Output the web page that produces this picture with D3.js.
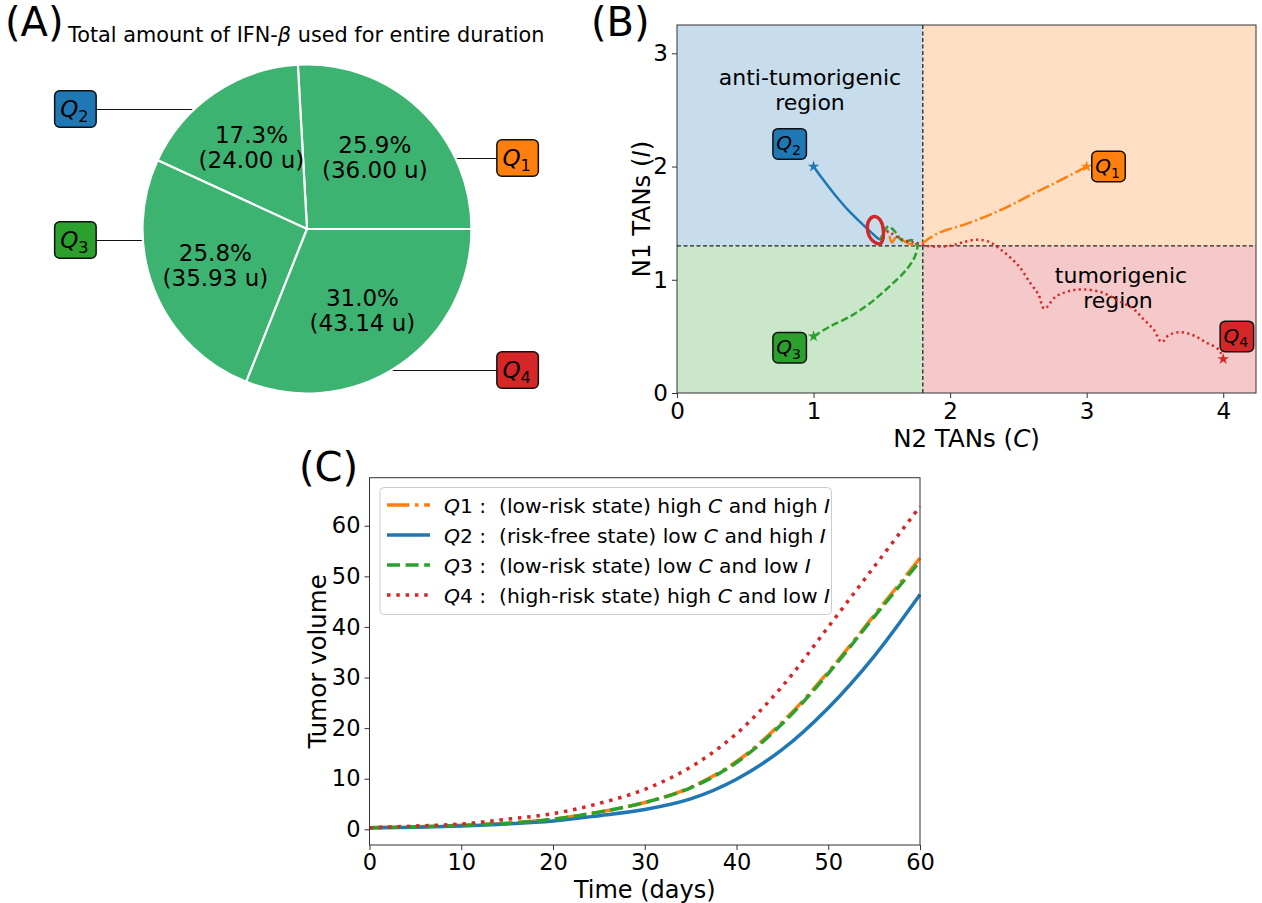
<!DOCTYPE html>
<html><head><meta charset="utf-8">
<script src="https://cdn.jsdelivr.net/npm/d3@7"></script>
<style>
body{margin:0;background:#fff}
text{font-family:"DejaVu Sans",sans-serif;fill:#000;white-space:pre}
</style>
</head><body><script>
// ---------------- DATA ----------------
const seriesNames = ["Q1","Q2","Q3","Q4"];
const seriesColors = ["#ff7f0e","#1f77b4","#2ca02c","#d62728"];
// (A) total IFN-beta used per quadrant start
const pieValues = [36.00, 24.00, 35.93, 43.14];
// (B) phase-plane trajectories [C, I]
const trajQ1 = [[3.0,2.0],[2.81,1.88],[2.616,1.765],[2.424,1.647],[2.264,1.56],[2.10,1.485],[1.976,1.44],[1.91,1.41],[1.84,1.36],[1.79,1.32],[1.73,1.31],[1.67,1.335],[1.61,1.385],[1.575,1.33],[1.548,1.41],[1.51,1.47]];
const trajQ2 = [[1.0,2.0],[1.06,1.90],[1.15,1.76],[1.25,1.62],[1.35,1.50],[1.43,1.41],[1.48,1.36],[1.50,1.36]];
const trajQ3 = [[1.0,0.5],[1.116,0.585],[1.263,0.673],[1.41,0.79],[1.555,0.94],[1.677,1.085],[1.74,1.20],[1.76,1.29],[1.755,1.31],[1.72,1.35],[1.67,1.335],[1.63,1.365],[1.597,1.424],[1.548,1.47],[1.51,1.41],[1.49,1.35]];
const trajQ4 = [[4.0,0.3],[3.97,0.38],[3.87,0.45],[3.78,0.51],[3.685,0.537],[3.60,0.51],[3.55,0.45],[3.49,0.56],[3.41,0.66],[3.34,0.745],[3.24,0.81],[3.116,0.886],[2.98,0.915],[2.87,0.90],[2.77,0.847],[2.69,0.745],[2.647,0.87],[2.585,0.975],[2.51,1.11],[2.437,1.20],[2.363,1.274],[2.288,1.333],[2.20,1.354],[2.10,1.333],[2.00,1.30],[1.906,1.294],[1.82,1.30],[1.77,1.32],[1.71,1.335],[1.63,1.365],[1.57,1.41],[1.51,1.45]];
const limitCycle = [[1.51,1.45],[1.50,1.50],[1.475,1.545],[1.434,1.556],[1.40,1.51],[1.395,1.45],[1.41,1.38],[1.45,1.33],[1.49,1.32],[1.51,1.37]];
const cThreshold = 1.8, iThreshold = 1.3;
const bTicksX = [0,1,2,3,4], bTicksY = [0,1,2,3];
// (C) tumor volume vs time
const days = [0,5,10,15,20,25,30,35,40,45,50,55,60];
const volQ1 = [0.3,0.5,0.8,1.2,2.0,3.4,5.3,8.3,13.4,21.2,31.1,42.3,53.6];
const volQ2 = [0.3,0.4,0.65,1.05,1.65,2.7,3.9,6.0,9.9,15.8,24.0,34.2,46.4];
const volQ3 = [0.3,0.5,0.8,1.2,2.0,3.4,5.3,8.2,13.2,20.9,30.8,42.0,53.0];
const volQ4 = [0.3,0.65,1.05,2.0,3.1,5.1,7.9,12.3,18.9,28.3,40.0,51.9,63.8];
const cTicksX = [0,10,20,30,40,50,60], cTicksY = [0,10,20,30,40,50,60];
const legendStates = ["low-risk state","risk-free state","low-risk state","high-risk state"];
const legendC = ["high","low","low","high"];
const legendI = ["high","high","low","low"];

// ---------------- SETUP ----------------
const svg = d3.select("body").append("svg").attr("width",1262).attr("height",903);

function qLabel(g, cx, cy, i, w, h, fs){
  g.append("rect").attr("x",cx-w/2).attr("y",cy-h/2).attr("width",w).attr("height",h)
    .attr("rx",5).attr("fill",seriesColors[i]).attr("stroke","#111").attr("stroke-width",1.5);
  const t = g.append("text").attr("x",cx-1).attr("y",cy+fs*0.33).attr("text-anchor","middle").attr("font-size",fs);
  t.append("tspan").attr("font-style","italic").text("Q");
  t.append("tspan").attr("font-size",fs*0.7).attr("dy",fs*0.22).text(seriesNames[i].slice(1));
}

// panel letters
[["(A)",5,36],["(B)",591,36],["(C)",299,481]].forEach(([s,x,y])=>{
  svg.append("text").attr("x",x).attr("y",y).attr("font-size",40).text(s);
});

// ---------------- (A) PIE ----------------
const pcx=307, pcy=229, pr=164.5;
const tA = svg.append("text").attr("x",68).attr("y",42).attr("font-size",20.8);
tA.append("tspan").text("Total amount of IFN-");
tA.append("tspan").attr("font-style","italic").text("β");
tA.append("tspan").text(" used for entire duration");

const gA = svg.append("g").attr("transform",`translate(${pcx},${pcy})`);
const pieGen = d3.pie().sort(null).startAngle(Math.PI/2).endAngle(Math.PI/2-2*Math.PI);
const arcs = pieGen(pieValues);
const total = d3.sum(pieValues);
const labelDy = [-71,-120,11,141];
const side = [1,-1,-1,1];
const boxOff = [210.6,-231.6,-231.6,210.6];
arcs.forEach((a,i)=>{
  const dy = labelDy[i];
  const xe = side[i]*Math.sqrt(pr*pr-dy*dy);
  gA.append("line").attr("x1",xe).attr("x2",boxOff[i]-side[i]*20.75).attr("y1",dy+0.5).attr("y2",dy+0.5)
    .attr("stroke","#111").attr("stroke-width",1.2);
});
const arcGen = d3.arc().innerRadius(0).outerRadius(pr);
gA.selectAll("path.w").data(arcs).join("path").attr("class","w").attr("d",arcGen)
  .attr("fill","#3cb371").attr("stroke","#fff").attr("stroke-width",2.2).attr("stroke-linejoin","round");
const lblArc = d3.arc().innerRadius(0).outerRadius(pr*1.2);
const fmt1 = d3.format(".1f"), fmt2 = d3.format(".2f");
arcs.forEach((a,i)=>{
  const [x,y] = lblArc.centroid(a);
  gA.append("text").attr("x",x).attr("y",y-12.5+8).attr("text-anchor","middle").attr("font-size",23)
    .text(fmt1(a.value/total*100)+"%");
  gA.append("text").attr("x",x).attr("y",y+12.5+8).attr("text-anchor","middle").attr("font-size",23)
    .text("("+fmt2(a.value)+" u)");
  qLabel(gA, boxOff[i], labelDy[i], i, 41.5, 36.5, 23);
});

// ---------------- (B) PHASE PLANE ----------------
const bL=677, bR=1256, bT=25, bB=393;
const xB = d3.scaleLinear().domain([0,4.24]).range([bL,bR]);
const yB = d3.scaleLinear().domain([0,3.25]).range([bB,bT]);
const gB = svg.append("g");
svg.append("defs").append("clipPath").attr("id","clipB").append("rect")
  .attr("x",bL).attr("y",bT).attr("width",bR-bL).attr("height",bB-bT);
// quadrant backgrounds: Q1 high C/high I, Q2 low C/high I, Q3 low/low, Q4 high C/low I
const quads = [
  {x0:cThreshold, x1:4.24, y0:iThreshold, y1:3.25},
  {x0:0, x1:cThreshold, y0:iThreshold, y1:3.25},
  {x0:0, x1:cThreshold, y0:0, y1:iThreshold},
  {x0:cThreshold, x1:4.24, y0:0, y1:iThreshold}
];
quads.forEach((q,i)=>{
  gB.append("rect").attr("x",xB(q.x0)).attr("y",yB(q.y1)).attr("width",xB(q.x1)-xB(q.x0)).attr("height",yB(q.y0)-yB(q.y1))
    .attr("fill",seriesColors[i]).attr("fill-opacity",0.25);
});
gB.append("line").attr("x1",xB(cThreshold)).attr("x2",xB(cThreshold)).attr("y1",bT).attr("y2",bB)
  .attr("stroke","#222").attr("stroke-width",1.3).attr("stroke-dasharray","4,2.5");
gB.append("line").attr("x1",bL).attr("x2",bR).attr("y1",yB(iThreshold)).attr("y2",yB(iThreshold))
  .attr("stroke","#222").attr("stroke-width",1.3).attr("stroke-dasharray","4,2.5");
[["anti-tumorigenic",810,85],["region",810,110],["tumorigenic",1121,283],["region",1118,308]].forEach(([s,x,y])=>{
  gB.append("text").attr("x",x).attr("y",y).attr("text-anchor","middle").attr("font-size",22).text(s);
});
const lineB = d3.line().x(d=>xB(d[0])).y(d=>yB(d[1])).curve(d3.curveCatmullRom.alpha(0.5));
const loopB = d3.line().x(d=>xB(d[0])).y(d=>yB(d[1])).curve(d3.curveCatmullRomClosed.alpha(0.5));
const trajs = [trajQ1,trajQ2,trajQ3,trajQ4];
const dashB = ["12.8,3.2,2,3.2", null, "7.4,3.2", "2.2,3.3"];
const gT = gB.append("g").attr("clip-path","url(#clipB)");
trajs.forEach((tr,i)=>{
  const p = gT.append("path").attr("d",lineB(tr)).attr("fill","none").attr("stroke",seriesColors[i]).attr("stroke-width",2.5);
  if(dashB[i]) p.attr("stroke-dasharray",dashB[i]);
  const lp = gT.append("path").attr("d",loopB(limitCycle)).attr("fill","none").attr("stroke",seriesColors[i])
    .attr("stroke-width", i===3 ? 3.4 : 2.5);
  if(dashB[i] && i!==3) lp.attr("stroke-dasharray",dashB[i]);
});
const star = d3.symbol().type(d3.symbolStar).size(42);
trajs.forEach((tr,i)=>{
  gT.append("path").attr("d",star()).attr("transform",`translate(${xB(tr[0][0])},${yB(tr[0][1])})`).attr("fill",seriesColors[i]);
});
const bLabelPos = [[3.16,2.0],[0.825,2.2],[0.825,0.4],[4.1,0.5]];
bLabelPos.forEach((p,i)=>qLabel(gB, xB(p[0]), yB(p[1]), i, 33.5, 30.5, 20));
gB.append("rect").attr("x",bL).attr("y",bT).attr("width",bR-bL).attr("height",bB-bT).attr("fill","none").attr("stroke","#333").attr("stroke-width",1);
const axBx = svg.append("g").attr("transform",`translate(0,${bB})`).call(d3.axisBottom(xB).tickValues(bTicksX).tickFormat(d3.format("d")).tickSize(5).tickSizeOuter(0).tickPadding(5));
const axBy = svg.append("g").attr("transform",`translate(${bL},0)`).call(d3.axisLeft(yB).tickValues(bTicksY).tickFormat(d3.format("d")).tickSize(5).tickSizeOuter(0).tickPadding(4));
[axBx,axBy].forEach(a=>{a.select(".domain").remove(); a.selectAll("text").attr("font-size",23).attr("font-family","DejaVu Sans"); a.selectAll("line").attr("stroke","#333");});
const xlB = svg.append("text").attr("x",(bL+bR)/2).attr("y",447).attr("text-anchor","middle").attr("font-size",24.5);
xlB.append("tspan").text("N2 TANs (");
xlB.append("tspan").attr("font-style","italic").text("C");
xlB.append("tspan").text(")");
const ylB = svg.append("text").attr("transform",`translate(650,${(bT+bB)/2}) rotate(-90)`).attr("text-anchor","middle").attr("font-size",24.5);
ylB.append("tspan").text("N1 TANs (");
ylB.append("tspan").attr("font-style","italic").text("I");
ylB.append("tspan").text(")");

// ---------------- (C) TUMOR VOLUME ----------------
const cL=369.5, cR=920, cT=477.7, cB=845;
const xC = d3.scaleLinear().domain([0,60]).range([cL,cR]);
const yC = d3.scaleLinear().domain([-3.1,69.5]).range([cB,cT]);
const gC = svg.append("g");
const vols = [volQ1,volQ2,volQ3,volQ4];
const dashC = ["22.4,5.6,3.5,5.6", null, "13,5.6", "3.5,5.8"];
const lineC = d3.line().x((d,j)=>xC(days[j])).y(d=>yC(d)).curve(d3.curveCatmullRom.alpha(0.5));
vols.forEach((v,i)=>{
  const p = gC.append("path").attr("d",lineC(v)).attr("fill","none").attr("stroke",seriesColors[i]).attr("stroke-width",3.5);
  if(dashC[i]) p.attr("stroke-dasharray",dashC[i]);
});
gC.append("rect").attr("x",cL).attr("y",cT).attr("width",cR-cL).attr("height",cB-cT).attr("fill","none").attr("stroke","#333").attr("stroke-width",1);
const axCx = svg.append("g").attr("transform",`translate(0,${cB})`).call(d3.axisBottom(xC).tickValues(cTicksX).tickFormat(d3.format("d")).tickSize(5).tickSizeOuter(0).tickPadding(4));
const axCy = svg.append("g").attr("transform",`translate(${cL},0)`).call(d3.axisLeft(yC).tickValues(cTicksY).tickFormat(d3.format("d")).tickSize(5).tickSizeOuter(0).tickPadding(4));
[axCx,axCy].forEach(a=>{a.select(".domain").remove(); a.selectAll("text").attr("font-size",22.5).attr("font-family","DejaVu Sans"); a.selectAll("line").attr("stroke","#333");});
svg.append("text").attr("x",(cL+cR)/2).attr("y",898).attr("text-anchor","middle").attr("font-size",24).text("Time (days)");
svg.append("text").attr("transform",`translate(326,${(cT+cB)/2}) rotate(-90)`).attr("text-anchor","middle").attr("font-size",24.5).text("Tumor volume");
// legend
const lg = svg.append("g");
lg.append("rect").attr("x",380).attr("y",487.5).attr("width",451.5).attr("height",127).attr("rx",4)
  .attr("fill","#fff").attr("fill-opacity",0.8).attr("stroke","#ccc").attr("stroke-width",1);
seriesNames.forEach((n,i)=>{
  const y = 505 + i*30;
  const l = lg.append("line").attr("x1",387).attr("x2",430).attr("y1",y).attr("y2",y).attr("stroke",seriesColors[i]).attr("stroke-width",3.5);
  if(dashC[i]) l.attr("stroke-dasharray",dashC[i]);
  const t = lg.append("text").attr("x",444).attr("y",y+7.5).attr("font-size",20.3);
  t.append("tspan").attr("font-style","italic").text(n[0]);
  t.append("tspan").text(n.slice(1)+" :  ("+legendStates[i]+") "+legendC[i]+" ");
  t.append("tspan").attr("font-style","italic").text("C");
  t.append("tspan").text(" and "+legendI[i]+" ");
  t.append("tspan").attr("font-style","italic").text("I");
});
</script></body></html>
